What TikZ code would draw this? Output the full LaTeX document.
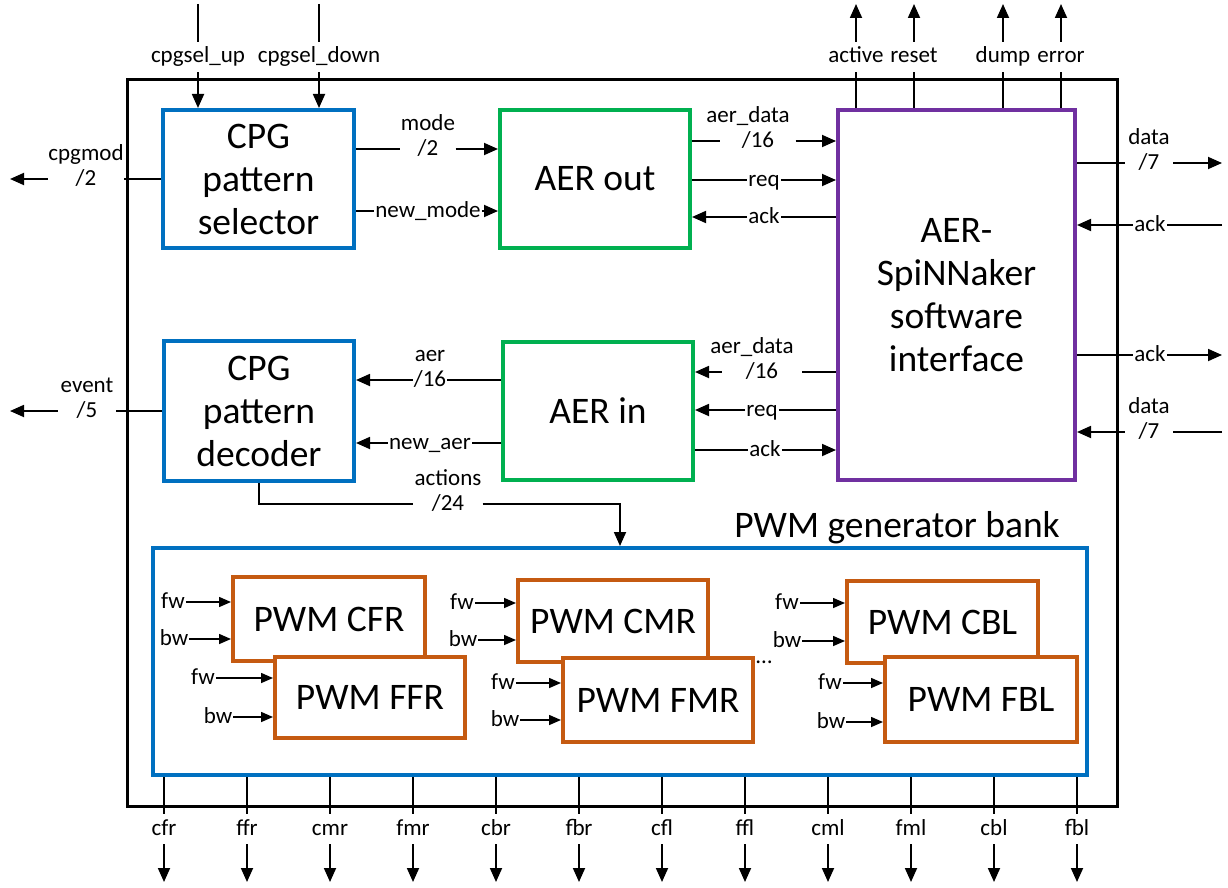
\documentclass[tikz,border=0pt]{standalone}
\usepackage{fontspec}
\setmainfont{Carlito}
\usetikzlibrary{arrows.meta,positioning}
\definecolor{cpgblue}{RGB}{0,112,192}
\definecolor{aergreen}{RGB}{0,176,80}
\definecolor{spinpurple}{RGB}{112,48,160}
\definecolor{pwmorange}{RGB}{197,90,17}

\begin{document}
\begin{tikzpicture}[x=1pt,y=-1pt,
    big/.style={font=\fontsize{37.5}{43}\selectfont},
    blk/.style={draw,big,line width=4pt,fill=white,align=center,inner sep=0pt},
    lbl/.style={font=\fontsize{23}{27}\selectfont,inner sep=1pt,text height=17pt,text depth=5pt},
    every label/.append style={lbl},
    gap/.style={lbl,fill=white,label distance=2pt},
    vgap/.style={lbl,fill=white,inner ysep=4pt},
    arr/.style={line width=1.8pt,-{Triangle[length=14pt,width=12pt]}},
    sarr/.style={line width=1.5pt,-{Triangle[length=12pt,width=10pt]}}]
  \useasboundingbox (0,0) rectangle (1228,888);

  % chip outline
  \node[draw,line width=3pt,minimum width=990pt,minimum height=726pt] (chip) at (622,443) {};

  % main blocks
  \node[blk,draw=cpgblue,minimum width=191pt,minimum height=138pt] (sel) at (258.5,179) {CPG\\pattern\\selector};
  \node[blk,draw=aergreen,minimum width=190pt,minimum height=138pt] (aout) at (595,179) {AER out};
  \node[blk,draw=spinpurple,minimum width=237pt,minimum height=370pt] (spin) at (956.5,295) {AER-\\SpiNNaker\\software\\interface};
  \node[blk,draw=cpgblue,minimum width=190pt,minimum height=140pt] (dec) at (259,411) {CPG\\pattern\\decoder};
  \node[blk,draw=aergreen,minimum width=190pt,minimum height=138pt] (ain) at (598,411) {AER in};

  % PWM bank
  \node[blk,draw=cpgblue,minimum width=934pt,minimum height=227pt] (bank) at (620,661.5) {};
  \node[big,inner sep=0pt] (banktitle) at (897,528) {PWM generator bank};
  \node[blk,draw=pwmorange,minimum width=192pt,minimum height=84pt] (cfr) at (329,619) {PWM CFR};
  \node[blk,draw=pwmorange,minimum width=190pt,minimum height=81pt] (ffr) at (370,697.5) {PWM FFR};
  \node[blk,draw=pwmorange,minimum width=190pt,minimum height=82pt] (cmr) at (613,621) {PWM CMR};
  \node[blk,draw=pwmorange,minimum width=190pt,minimum height=84pt] (fmr) at (658,700) {PWM FMR};
  \node[blk,draw=pwmorange,minimum width=191pt,minimum height=82pt] (cbl) at (942.5,622) {PWM CBL};
  \node[blk,draw=pwmorange,minimum width=192pt,minimum height=85pt] (fbl) at (981,699.5) {PWM FBL};
  \node[font=\fontsize{23}{27}\selectfont,inner sep=0pt] (dots) at (764,662) {\dots};

  \foreach \b/\fx/\fy/\bx/\by in {cfr/173/602/174/639, ffr/203/678/218/717, cmr/462/603/463/640,
      fmr/503/683/505/720, cbl/787/603/787/641, fbl/830/683/831/722} {
    \node[lbl] (fw\b) at (\fx,\fy) {fw};
    \node[lbl] (bw\b) at (\bx,\by) {bw};
    \draw[sarr] (fw\b) -- (fw\b -| \b.west);
    \draw[sarr] (bw\b) -- (bw\b -| \b.west);
  }

  % labels on the wires
  \node[gap,minimum width=76pt,label=above:cpgmod] (lcm) at (86,179) {/2};
  \node[gap,minimum width=58pt,label=above:event] (lev) at (87,411) {/5};
  \node[gap,minimum width=55pt,label=above:mode] (lmode) at (428,149) {/2};
  \node[gap] (lnm) at (428,211) {new\_mode};
  \node[gap,label=above:aer] (laer) at (430,380) {/16};
  \node[gap] (lna) at (430,443) {new\_aer};
  \node[gap,minimum width=69pt,label=above:actions] (lact) at (448,504) {/24};
  \node[gap,minimum width=75pt,label={[xshift=-10pt]above:aer\_data}] (lad1) at (758,141) {/16};
  \node[gap] (lrq1) at (764,180) {req};
  \node[gap] (lak1) at (764,217) {ack};
  \node[gap,minimum width=80pt,label={[xshift=-10pt]above:aer\_data}] (lad2) at (762,372) {/16};
  \node[gap] (lrq2) at (762,410) {req};
  \node[gap] (lak2) at (765,450) {ack};
  \node[gap,minimum width=48pt,label=above:data] (ldo) at (1149,163) {/7};
  \node[gap] (lai) at (1150,225) {ack};
  \node[gap] (lao) at (1150,355) {ack};
  \node[gap,minimum width=48pt,label=above:data] (ldi) at (1149,432) {/7};

  % free ends
  \coordinate (cpgmod) at (10,179);
  \coordinate (event) at (10,411);
  \coordinate (upin) at (198,4);
  \coordinate (downin) at (319,4);
  \coordinate (dataout) at (1222,163);
  \coordinate (ackin) at (1222,225);
  \coordinate (ackout) at (1222,355);
  \coordinate (datain) at (1222,432);
  \coordinate (actx) at (620,504);

  % CPG selector
  \node[vgap] (lup) at (198,57) {cpgsel\_up};
  \node[vgap] (ldown) at (319,57) {cpgsel\_down};
  \draw[arr] (upin) -- (lup) -- (upin |- sel.north);
  \draw[arr] (downin) -- (ldown) -- (downin |- sel.north);
  \draw[arr] (sel.west) -- (lcm) -- (cpgmod);
  \draw[arr] (sel.east |- lmode) -- (lmode) -- (aout.west |- lmode);
  \draw[arr] (sel.east |- lnm) -- (lnm) -- (aout.west |- lnm);

  % AER out <-> interface
  \draw[arr] (aout.east |- lad1) -- (lad1) -- (spin.west |- lad1);
  \draw[arr] (aout.east |- lrq1) -- (lrq1) -- (spin.west |- lrq1);
  \draw[arr] (spin.west |- lak1) -- (lak1) -- (aout.east |- lak1);

  % interface <-> AER in
  \draw[arr] (spin.west |- lad2) -- (lad2) -- (ain.east |- lad2);
  \draw[arr] (spin.west |- lrq2) -- (lrq2) -- (ain.east |- lrq2);
  \draw[arr] (ain.east |- lak2) -- (lak2) -- (spin.west |- lak2);

  % AER in -> decoder
  \draw[arr] (ain.west |- laer) -- (laer) -- (dec.east |- laer);
  \draw[arr] (ain.west |- lna) -- (lna) -- (dec.east |- lna);
  \draw[arr] (dec.west) -- (lev) -- (event);
  \draw[arr] (dec.south) |- (lact) -- (actx) -- (actx |- bank.north);

  % interface outside
  \foreach \n/\x in {active/856,reset/914,dump/1003,error/1061} {
    \coordinate (\n) at (\x,4);
    \node[vgap] (l\n) at (\x,57) {\n};
    \draw[arr] (spin.north -| \n) -- (l\n) -- (\n);
  }
  \draw[arr] (spin.east |- ldo) -- (ldo) -- (dataout);
  \draw[arr] (ackin) -- (lai) -- (spin.east |- lai);
  \draw[arr] (spin.east |- lao) -- (lao) -- (ackout);
  \draw[arr] (datain) -- (ldi) -- (spin.east |- ldi);

  % PWM outputs
  \foreach \n [count=\i from 0] in {cfr,ffr,cmr,fmr,cbr,fbr,cfl,ffl,cml,fml,cbl,fbl} {
    \node[vgap] (l\n) at (164+83*\i,829) {\n};
    \coordinate (o\n) at (164+83*\i,882);
    \draw[arr] (bank.south -| l\n) -- (l\n) -- (o\n);
  }
\end{tikzpicture}
\end{document}
